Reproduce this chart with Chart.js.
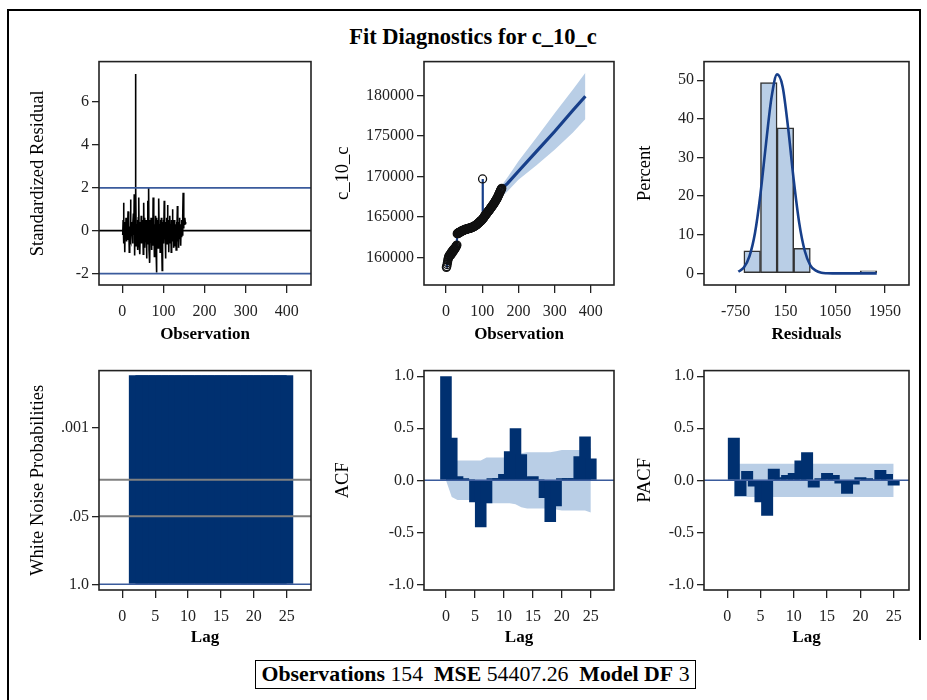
<!DOCTYPE html>
<html><head><meta charset="utf-8">
<script src="https://cdn.jsdelivr.net/npm/chart.js@4.4.1/dist/chart.umd.min.js"></script>
<style>
html,body{margin:0;padding:0;background:#fff;}
body{width:927px;height:700px;position:relative;overflow:hidden;font-family:'Liberation Serif','Times New Roman',serif;}
canvas{position:absolute;}
#fl{position:absolute;left:7px;top:9px;width:2px;height:700px;background:#000;}
#ft{position:absolute;left:7px;top:9px;width:914px;height:2px;background:#000;}
#fr{position:absolute;left:919px;top:9px;width:2px;height:631px;background:#000;}
#title{position:absolute;left:0;width:946px;top:24px;text-align:center;font-weight:bold;font-size:22.5px;color:#000;}
#foot{position:absolute;left:255px;top:660px;width:439px;height:27px;border:1.5px solid #000;text-align:center;line-height:27px;font-size:21.8px;color:#000;white-space:pre;}
</style></head>
<body>
<div id="fl"></div><div id="ft"></div><div id="fr"></div>
<div id="title">Fit Diagnostics for c_10_c</div>
<div id="foot"><b>Observations</b> 154  <b>MSE</b> 54407.26  <b>Model DF</b> 3</div>
<script>
// ---------------- data ----------------
const residuals = [
-0.2,0.5,1.3,-0.6,0.3,-1.0,0.4,-0.3,0.6,-0.5,0.2,-0.4,
0.3,0.9,-0.3,0.5,-1.0,0.2,-0.4,1.45,-0.5,0.3,-0.2,0.4,
-0.6,0.3,0.8,-0.2,1.7,-1.15,0.4,7.3,2.1,-0.7,0.3,-0.4,
0.5,-0.9,0.6,1.55,-0.5,0.3,-1.1,0.4,-0.2,0.7,-0.6,0.2,
-0.4,0.5,-1.1,1.3,-0.3,0.6,-0.8,0.3,-0.2,0.5,-1.3,0.4,
-0.3,1.4,-0.6,2.0,-0.9,0.3,-1.5,0.5,-0.4,0.6,-0.9,0.2,
0.4,-0.7,1.55,-0.4,0.6,-1.2,0.3,-0.5,0.7,-0.8,-1.95,0.6,
-0.3,0.5,-0.8,0.4,1.5,-0.6,0.3,-1.0,0.5,-0.4,0.6,-0.7,
-1.85,0.4,-0.3,0.5,-0.6,1.4,-0.4,0.3,-1.3,0.4,-0.5,0.6,
-0.6,1.2,-0.3,0.5,-1.0,0.3,-0.6,0.7,-0.4,0.3,-1.0,0.5,
-0.3,1.0,-0.5,0.4,-0.8,0.5,-0.3,0.4,-0.7,0.3,-0.9,0.4,
-0.3,1.15,-0.5,0.4,-0.8,0.3,0.6,-0.4,0.3,-0.7,0.2,-0.3,
0.5,-0.2,0.7,1.77,0.1,0.4,0.3,0.6,0.4,0.3];

const c10c = [
158800,158900,159150,159400,159650,159850,160000,160150,160250,160200,
160350,160450,160300,160550,160650,160500,160750,160850,160700,160950,
160850,161050,161000,161150,161100,161250,161300,161400,161450,161550,
162950,163000,162950,163050,163100,163050,163120,163100,163180,163150,
163220,163260,163250,163300,163290,163340,163330,163380,163370,163420,163410,163460,
163450,163500,163480,163520,163500,163550,163530,163570,163550,163600,163580,163620,
163600,163650,163630,163680,163660,163710,163700,163750,163740,163790,163780,163830,
163830,163880,163880,163930,163940,163990,164000,164050,164070,164120,164150,164200,
164230,164280,164310,164360,164400,164450,164480,164530,164560,164600,164650,164700,
169700,
164800,164850,164950,165000,165050,165150,165200,165250,165300,165350,165450,
165500,165550,165600,165650,165700,165800,165850,165900,165950,166000,166100,166150,
166200,166250,166350,166400,166450,166500,166600,166650,166700,166800,166850,166950,
167000,167100,167150,167250,167300,167400,167500,167600,167700,167800,167900,168000,
168100,168200,168300,168400,168450,168550];

const fcstObs   = [155, 170, 200, 250, 300, 350, 385];
const fcst      = [168550, 169150, 170650, 173100, 175550, 178150, 179900];
const fcstUpper = [169000, 169900, 171900, 174800, 177800, 180700, 182800];
const fcstLower = [167500, 168200, 169600, 171400, 173300, 175400, 177100];

const binCenters  = [-450, -150, 150, 450, 1650];
const binPercents = [5.84, 49.35, 37.66, 6.49, 0.65];
const normX   = [-700,-600,-500,-400,-300,-200,-100,0,100,200,300,400,500,600,700,800,900,1000,1200,1400,1600,1800];
const normPct = [0.45,1.5,4.4,10.4,20.6,33.6,45.6,51.5,48.3,37.5,24.2,13.0,5.8,2.1,0.7,0.15,0.03,0,0,0,0,0];

const wnLags = [2,3,4,5,6,7,8,9,10,11,12,13,14,15,16,17,18,19,20,21,22,23,24,25];
const wnNegLogP = [4,4,4,4,4,4,4,4,4,4,4,4,4,4,4,4,4,4,4,4,4,4,4,4];

const acfLags = [0,1,2,3,4,5,6,7,8,9,10,11,12,13,14,15,16,17,18,19,20,21,22,23,24,25];
const acf     = [1.00,0.41,0.04,0.02,0.01,-0.21,-0.45,-0.22,0.02,0.02,0.06,0.28,0.50,0.25,0.03,0.04,0.01,-0.17,-0.40,-0.25,0.02,0.02,0.02,0.23,0.42,0.21];
const acfBand = [0,0.16,0.19,0.19,0.19,0.19,0.19,0.22,0.22,0.22,0.22,0.22,0.23,0.26,0.27,0.27,0.27,0.27,0.27,0.28,0.29,0.29,0.29,0.29,0.29,0.31];

const pacfLags = [1,2,3,4,5,6,7,8,9,10,11,12,13,14,15,16,17,18,19,20,21,22,23,24,25];
const pacf     = [0.41,-0.15,0.09,-0.06,-0.21,-0.34,0.11,0.03,0.05,0.07,0.19,0.27,-0.07,0.02,0.07,0.05,-0.03,-0.13,-0.04,0.03,0.02,0.01,0.10,0.06,-0.05];
const pacfBand = [0.16,0.16,0.16,0.16,0.16,0.16,0.16,0.16,0.16,0.16,0.16,0.16,0.16,0.16,0.16,0.16,0.16,0.16,0.16,0.16,0.16,0.16,0.16,0.16,0.16];

// tick values and labels
const residTicks = [-2, 0, 2, 4, 6];
const obsTicks   = [0, 100, 200, 300, 400];
const c10cTicks  = [160000, 165000, 170000, 175000, 180000];
const pctTicks   = [0, 10, 20, 30, 40, 50];
const resXTicks  = [-750, 150, 1050, 1950];
const lagTicks   = [0, 5, 10, 15, 20, 25];
const wnTickVals = [0, 1.30103, 3];
const wnTickLabels = ['1.0', '.05', '.001'];
const corrTicks  = [-1, -0.5, 0, 0.5, 1];
const corrLabels = ['-1.0', '-0.5', '0.0', '0.5', '1.0'];
const residRefs  = [-2, 0, 2];
const wnRefs     = [1.30103, 2];

// ---------------- drawing ----------------
const FONT = "'Liberation Serif','Times New Roman',serif";
const tickFont = {family: FONT, size: 16};
const xTitleFont = {family: FONT, size: 17, weight: 'bold'};
const yTitleFont = {family: FONT, size: 18.5, weight: 'normal'};
const NAVY = '#003070', BAND = '#b9cee6', REFBLUE = '#3a5b9c', LINEBLUE = '#173f8a';

const framePlugin = {
  id: 'frame',
  afterDraw(chart) {
    const {ctx, chartArea: a} = chart;
    ctx.save(); ctx.strokeStyle = '#222'; ctx.lineWidth = 1.6;
    ctx.strokeRect(a.left, a.top, a.right - a.left, a.bottom - a.top);
    ctx.restore();
  }
};
function refPlugin(lines) {
  return {
    id: 'refLines',
    afterDatasetsDraw(chart) {
      const {ctx, chartArea: a, scales: {y}} = chart;
      lines.forEach(l => {
        const py = y.getPixelForValue(l.value);
        ctx.save(); ctx.strokeStyle = l.color; ctx.lineWidth = l.width;
        ctx.beginPath(); ctx.moveTo(a.left, py); ctx.lineTo(a.right, py); ctx.stroke();
        ctx.restore();
      });
    }
  };
}
const pts = (xs, ys) => xs.map((x, i) => ({x, y: ys[i]}));
const neg = arr => arr.map(v => -v);

function makePanel(g, baseType, datasets, xs, ys, lines) {
  const PT = 10, PR = 6;
  const cl = g.yTitleX - 12, ct = g.T - PT, cr = g.R + PR, cb = g.xTitleY + 11;
  const w = cr - cl, h = cb - ct;
  const cv = document.createElement('canvas');
  cv.width = w; cv.height = h;
  cv.style.cssText = `left:${cl}px;top:${ct}px;width:${w}px;height:${h}px`;
  document.body.appendChild(cv);
  const yW = g.L - cl, xH = cb - g.B;
  const axis = (s, isX) => ({
    type: 'linear', min: s.min, max: s.max, offset: false,
    afterBuildTicks: sc => { sc.ticks = s.ticks.map(v => ({value: v})); },
    afterFit: sc => { if (isX) sc.height = xH; else sc.width = yW; },
    grid: {drawOnChartArea: false, drawTicks: true, tickLength: isX ? 8 : 7, color: '#222', lineWidth: 1.3, offset: false},
    border: {display: false},
    ticks: {font: tickFont, color: '#222', padding: isX ? 9 : 3, maxRotation: 0, minRotation: 0, autoSkip: false,
            callback: (v, i) => s.labels ? s.labels[i] : String(v)},
    title: {display: true, text: s.title, font: isX ? xTitleFont : yTitleFont, color: '#000',
            padding: isX ? {top: 0, bottom: 1} : {top: 1, bottom: 0}}
  });
  new Chart(cv, {
    type: baseType,
    data: {datasets},
    options: {
      responsive: false, animation: false, devicePixelRatio: 1,
      layout: {padding: {top: PT, right: PR, left: 0, bottom: 0}},
      plugins: {legend: {display: false}, tooltip: {enabled: false}},
      elements: {point: {radius: 0}},
      scales: {x: axis(xs, true), y: axis(ys, false)}
    },
    plugins: [framePlugin, refPlugin(lines || [])]
  });
}

const obsIdx = residuals.map((_, i) => i + 1);

// Panel 1: standardized residuals
makePanel({L: 99, T: 59, R: 311, B: 285, yTitleX: 38, xTitleY: 335}, 'line', [
  {type: 'line', data: pts(obsIdx, residuals), borderColor: '#000', borderWidth: 1.6, pointRadius: 0, tension: 0}
], {min: -56.7, max: 459, ticks: obsTicks, title: 'Observation'},
   {min: -2.53, max: 7.88, ticks: residTicks, title: 'Standardized Residual'},
   residRefs.map(v => ({value: v, color: v === 0 ? '#000' : REFBLUE, width: 1.7})));

// Panel 2: series with fit and forecast
makePanel({L: 424, T: 59, R: 614, B: 285, yTitleX: 343, xTitleY: 335}, 'line', [
  {type: 'line', data: pts(fcstObs, fcstUpper), borderWidth: 0, pointRadius: 0, fill: false, order: 5},
  {type: 'line', data: pts(fcstObs, fcstLower), borderWidth: 0, pointRadius: 0, fill: '-1', backgroundColor: BAND, order: 4},
  {type: 'line', data: pts(fcstObs, fcst), borderColor: LINEBLUE, borderWidth: 3.2, pointRadius: 0, order: 3},
  {type: 'line', data: pts(obsIdx, c10c), borderColor: LINEBLUE, borderWidth: 2.2, pointRadius: 0, order: 2},
  {type: 'line', data: pts(obsIdx, c10c), showLine: false, pointRadius: 4, pointBorderWidth: 1.3,
   pointBorderColor: '#111', pointBackgroundColor: 'rgba(0,0,0,0)', order: 1}
], {min: -60.8, max: 464, ticks: obsTicks, title: 'Observation'},
   {min: 156622, max: 184177, ticks: c10cTicks, title: 'c_10_c'});

// Panel 3: histogram of residuals with normal curve
makePanel({L: 704, T: 59, R: 909, B: 285, yTitleX: 645, xTitleY: 335}, 'bar', [
  {type: 'line', data: pts(normX, normPct), borderColor: LINEBLUE, borderWidth: 2.6, pointRadius: 0,
   cubicInterpolationMode: 'monotone', order: 1},
  {type: 'bar', data: pts(binCenters, binPercents), backgroundColor: BAND, borderColor: '#333', borderWidth: 1.5,
   borderSkipped: false, barPercentage: 1, categoryPercentage: 1, order: 2}
], {min: -1320, max: 2382, ticks: resXTicks, title: 'Residuals'},
   {min: -3.0, max: 54.8, ticks: pctTicks, title: 'Percent'});

// Panel 4: white noise probabilities
makePanel({L: 99, T: 368, R: 311, B: 590, yTitleX: 38, xTitleY: 638}, 'bar', [
  {type: 'bar', data: pts(wnLags, wnNegLogP), backgroundColor: NAVY, borderWidth: 0,
   barPercentage: 2, categoryPercentage: 1}
], {min: -3.54, max: 28.7, ticks: lagTicks, title: 'Lag'},
   {min: -0.108, max: 4.09, ticks: wnTickVals, labels: wnTickLabels, title: 'White Noise Probabilities'},
   [...wnRefs.map(v => ({value: v, color: '#808080', width: 2})), {value: 0, color: REFBLUE, width: 1.5}]);

// Panel 5: ACF
makePanel({L: 424, T: 368, R: 614, B: 590, yTitleX: 343, xTitleY: 638}, 'bar', [
  {type: 'line', data: pts(acfLags, acfBand), borderWidth: 0, pointRadius: 0, fill: false, order: 5},
  {type: 'line', data: pts(acfLags, neg(acfBand)), borderWidth: 0, pointRadius: 0, fill: '-1', backgroundColor: BAND, order: 4},
  {type: 'bar', data: pts(acfLags, acf), backgroundColor: NAVY, borderWidth: 0,
   barPercentage: 2, categoryPercentage: 1, order: 1}
], {min: -3.79, max: 29.0, ticks: lagTicks, title: 'Lag'},
   {min: -1.054, max: 1.054, ticks: corrTicks, labels: corrLabels, title: 'ACF'},
   [{value: 0, color: REFBLUE, width: 1.5}]);

// Panel 6: PACF
makePanel({L: 704, T: 368, R: 909, B: 590, yTitleX: 645, xTitleY: 638}, 'bar', [
  {type: 'line', data: pts(pacfLags, pacfBand), borderWidth: 0, pointRadius: 0, fill: false, order: 5},
  {type: 'line', data: pts(pacfLags, neg(pacfBand)), borderWidth: 0, pointRadius: 0, fill: '-1', backgroundColor: BAND, order: 4},
  {type: 'bar', data: pts(pacfLags, pacf), backgroundColor: NAVY, borderWidth: 0,
   barPercentage: 1.8, categoryPercentage: 1, order: 1}
], {min: -3.48, max: 27.3, ticks: lagTicks, title: 'Lag'},
   {min: -1.054, max: 1.054, ticks: corrTicks, labels: corrLabels, title: 'PACF'},
   [{value: 0, color: REFBLUE, width: 1.5}]);
</script>
</body></html>
